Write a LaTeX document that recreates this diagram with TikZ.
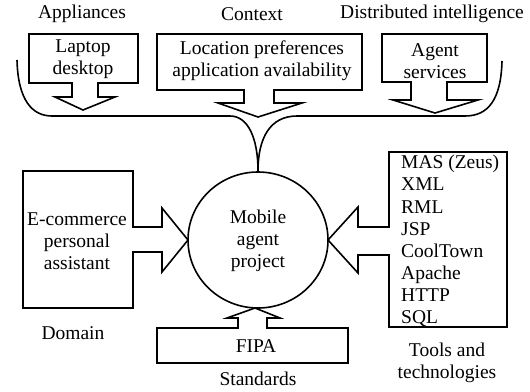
\documentclass[tikz,border=0pt]{standalone}
\usepackage{fontspec}
\setmainfont{Liberation Serif}
\usetikzlibrary{shapes.geometric}
\begin{document}
\begin{tikzpicture}[x=1pt,y=-1pt,
  shape outline/.style={draw=black,line width=1.6pt,line join=miter},
  lbl/.style={inner sep=0pt,font=\fontsize{19.5}{22}\selectfont,align=center},
  lst/.style={inner sep=0pt,font=\fontsize{19.5}{22.1}\selectfont,align=left}]
\useasboundingbox (0,0) rectangle (530,391);
% top category labels
\node[lbl] (appl) at (82,14) {Appliances};
\node[lbl] (ctx) at (252,14) {Context};
\node[lbl] (dist) at (432,14) {Distributed intelligence};
% box 1
\draw[shape outline] (29,34) -- (138,34) -- (138,83) -- (98,83) -- (98,97) -- (115,97) -- (83,110) -- (55,97) -- (72,97) -- (72,83) -- (29,83) -- cycle;
\node[lbl] (laptop) at (83,59) {Laptop\\desktop};
% box 2
\draw[shape outline] (157,34) -- (362,34) -- (362,90) -- (274,90) -- (274,103) -- (302,103) -- (258,117) -- (218,103) -- (244,103) -- (244,90) -- (157,90) -- cycle;
\node[lbl] (loc) at (262,61) {Location preferences\\application availability};
% box 3
\draw[shape outline] (382,34) -- (487,34) -- (487,82) -- (447,82) -- (447,100) -- (478,100) -- (435,113) -- (393,100) -- (411,100) -- (411,82) -- (382,82) -- cycle;
\node[lbl] (agent) at (435,61) {Agent\\services};
% brace
\coordinate (bl) at (17,60);
\coordinate (br) at (502,61);
\node[ellipse,draw=black,line width=1.6pt,minimum width=140pt,minimum height=136pt,inner sep=0pt] (mob) at (258,240) {};
\draw[line width=1.6pt] (bl) .. controls (18,100) and (32,116) .. (52,116) -- (230,116)
  .. controls (248,116) and (258,138) .. (mob.north);
\draw[line width=1.6pt] (br) .. controls (501,100) and (488,116) .. (465,116) -- (297,116)
  .. controls (270,116) and (258,138) .. (mob.north);
\node[lbl] (mobtxt) at (258,241) {Mobile\\agent\\project};
% left box
\draw[shape outline] (23,171) -- (133,171) -- (133,227) -- (162,227) -- (162,208) -- (188,240) -- (162,272) -- (162,252) -- (133,252) -- (133,308) -- (23,308) -- cycle;
\node[lbl] (ecom) at (77,241) {E-commerce\\personal\\assistant};
\node[lbl] (dom) at (73,333) {Domain};
% right box
\draw[shape outline] (389,152) -- (507,152) -- (507,327) -- (389,327) -- (389,255) -- (358,255) -- (358,273) -- (328,240) -- (358,207) -- (358,227) -- (389,227) -- cycle;
\node[lst,anchor=west] (tools) at (401,241) {MAS (Zeus)\\XML\\RML\\JSP\\CoolTown\\Apache\\HTTP\\SQL};
\node[lbl] (toolslbl) at (447,363) {Tools and\\technologies};
% bottom box
\draw[shape outline] (157,328) -- (238,328) -- (238,318) -- (227,318) -- (255,308) -- (280,318) -- (267,318) -- (267,328) -- (348,328) -- (348,363) -- (157,363) -- cycle;
\node[lbl] (fipa) at (256,346) {FIPA};
\node[lbl] (std) at (258,379) {Standards};
\end{tikzpicture}
\end{document}
